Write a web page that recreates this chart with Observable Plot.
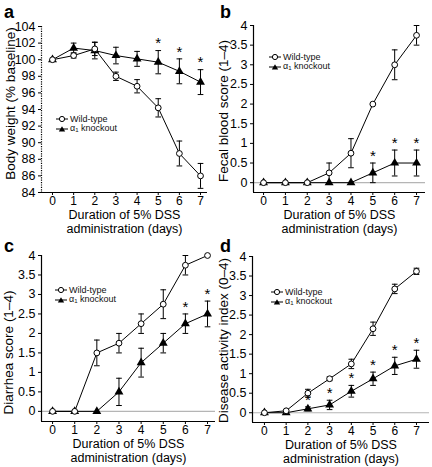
<!DOCTYPE html>
<html><head><meta charset="utf-8">
<script src="https://cdn.jsdelivr.net/npm/d3@7"></script>
<script src="https://cdn.jsdelivr.net/npm/@observablehq/plot@0.6"></script>
<style>
body{margin:0;background:#fff;font-family:"Liberation Sans",Arial,sans-serif;}
#wrap{position:relative;width:432px;height:467px;overflow:hidden;background:#fff;}
.panel{position:absolute;}
.plabel{position:absolute;font-weight:bold;font-size:18px;line-height:18px;color:#000;font-family:"Liberation Sans",Arial,sans-serif;}
.legend{position:absolute;font-size:9px;line-height:10px;color:#111;white-space:nowrap;}
.legend div{height:10px;display:flex;align-items:center;}
.legend svg{margin-right:2px;}
</style></head><body><div id="wrap"></div>
<script>
const days = [0, 1, 2, 3, 4, 5, 6, 7];
const seriesNames = ["Wild-type", "α₁ knockout"];

// a: body weight
const weightWT = [100, 100.5, 101.3, 98.0, 96.8, 94.2, 88.7, 86.0];
const weightWTErr = [0, 0.3, 0.8, 0.5, 0.8, 1.1, 1.5, 1.5];
const weightKO = [100, 101.4, 101.1, 100.5, 100.1, 99.7, 98.6, 97.3];
const weightKOErr = [0, 0.6, 1.0, 1.0, 0.9, 1.4, 1.5, 1.5];
const weightStars = [5, 6, 7];
const weightTicks = [84, 86, 88, 90, 92, 94, 96, 98, 100, 102, 104];

// b: fecal blood score
const bloodWT = [0, 0, 0, 0.25, 0.75, 2.0, 3.0, 3.75];
const bloodWTErr = [0, 0, 0, 0.25, 0.37, 0, 0.38, 0.25];
const bloodKO = [0, 0, 0, 0, 0, 0.25, 0.5, 0.5];
const bloodKOErr = [0, 0, 0, 0, 0, 0.25, 0.33, 0.33];
const bloodStars = [5, 6, 7];

// c: diarrhea score
const diarrheaWT = [0, 0, 1.5, 1.75, 2.25, 2.75, 3.75, 4.0];
const diarrheaWTErr = [0, 0, 0.33, 0.25, 0.25, 0.37, 0.25, 0];
const diarrheaKO = [0, 0, 0, 0.5, 1.25, 1.75, 2.25, 2.5];
const diarrheaKOErr = [0, 0, 0, 0.35, 0.37, 0.25, 0.25, 0.33];
const diarrheaStars = [6, 7];

// d: disease activity index
const daiWT = [0, 0.05, 0.5, 0.87, 1.25, 2.15, 3.17, 3.62];
const daiWTErr = [0, 0.03, 0.1, 0.05, 0.12, 0.17, 0.12, 0.08];
const daiKO = [0, 0, 0.1, 0.2, 0.55, 0.87, 1.2, 1.37];
const daiKOErr = [0, 0, 0.05, 0.12, 0.15, 0.17, 0.22, 0.23];
const daiStars = [2, 3, 4, 5, 6, 7];

const scoreTicks = [0, 0.5, 1, 1.5, 2, 2.5, 3, 3.5, 4];
const xTitle = "Duration of 5% DSS\nadministration (days)";

const capSymbol = {draw(ctx, size) { const w = Math.sqrt(size); ctx.moveTo(-w, 0); ctx.lineTo(w, 0); }};

function rows(vals, errs, group) {
  return days.map((d, i) => ({day: d, v: vals[i], e: errs[i], group}));
}

const panels = [
  {id: "a", left: 0, top: 0, w: 216, h: 234, ml: 41, mr: 9, mt: 26, mb: 42,
   xd: [-0.52, 7.33], yd: [84, 104], ticks: weightTicks, zero: false, dash: "1.2,1.2",
   title: "Body weight (% baseline)", tdx: -31, tdy: -6, xdy: 16,
   wt: [weightWT, weightWTErr], ko: [weightKO, weightKOErr], stars: weightStars,
   legend: [56, 114]},
  {id: "b", left: 216, top: 0, w: 216, h: 234, ml: 37, mr: 7, mt: 25, mb: 42,
   xd: [-0.46, 7.41], yd: [-0.25, 4], ticks: scoreTicks, zero: true, dash: null,
   title: "Fecal blood score (1–4)", tdx: -30, tdy: 2, xdy: 16,
   wt: [bloodWT, bloodWTErr], ko: [bloodKO, bloodKOErr], stars: bloodStars,
   legend: [53, 52]},
  {id: "c", left: 0, top: 234, w: 216, h: 233, ml: 41, mr: 1, mt: 21, mb: 46,
   xd: [-0.5, 7.36], yd: [-0.26, 4], ticks: scoreTicks, zero: true, dash: null,
   title: "Diarrhea score (1–4)", tdx: -33, tdy: 14, xdy: 16,
   wt: [diarrheaWT, diarrheaWTErr], ko: [diarrheaKO, diarrheaKOErr], stars: diarrheaStars,
   legend: [55, 51]},
  {id: "d", left: 216, top: 234, w: 216, h: 233, ml: 36, mr: 3, mt: 22, mb: 45,
   xd: [-0.55, 7.6], yd: [-0.25, 4], ticks: scoreTicks, zero: true, dash: null,
   title: "Disease activity index (0–4)", tdx: -29, tdy: 1, xdy: 16,
   wt: [daiWT, daiWTErr], ko: [daiKO, daiKOErr], stars: daiStars,
   legend: [55, 53]}
];

const wrap = document.getElementById("wrap");

function legendSymbol(kind) {
  const marker = kind === "wt"
    ? '<circle cx="6" cy="4" r="2.6" fill="#fff" stroke="#000" stroke-width="1"/>'
    : '<path d="M6,1.2 L9.2,6.6 L2.8,6.6 Z" fill="#000"/>';
  return `<svg width="12" height="8" viewBox="0 0 12 8"><line x1="0" y1="4" x2="12" y2="4" stroke="#000" stroke-width="1"/>${marker}</svg>`;
}

for (const p of panels) {
  const wt = rows(p.wt[0], p.wt[1], seriesNames[0]);
  const ko = rows(p.ko[0], p.ko[1], seriesNames[1]);
  const all = ko.concat(wt);
  const errs = all.filter(d => d.e > 0);
  const stars = ko.filter(d => p.stars.includes(d.day));
  const fmt = v => String(v);

  const chart = Plot.plot({
    width: p.w, height: p.h,
    marginLeft: p.ml, marginRight: p.mr, marginTop: p.mt, marginBottom: p.mb,
    style: {fontFamily: "'Liberation Sans', Arial, sans-serif", fontSize: "12px", color: "#000", background: "transparent", overflow: "visible"},
    x: {domain: p.xd},
    y: {domain: p.yd},
    marks: [
      p.zero ? Plot.ruleY([0], {stroke: "#b5b5b5", strokeWidth: 1.2}) : null,
      Plot.ruleX([p.xd[0]], {stroke: "#000", strokeWidth: 1.2, strokeDasharray: p.dash}),
      Plot.ruleY([p.yd[0]], {stroke: "#000", strokeWidth: 1.2}),
      Plot.axisY({ticks: p.ticks, tickSize: 3, tickPadding: 3, tickFormat: fmt, label: null, fontSize: 12.5}),
      Plot.axisX({ticks: days, tickSize: 3, tickPadding: 1, tickFormat: fmt, label: null, fontSize: 12}),
      Plot.ruleX(errs, {x: "day", y1: d => d.v - d.e, y2: d => d.v + d.e, stroke: "#000", strokeWidth: 1}),
      Plot.dot(errs, {x: "day", y: d => d.v + d.e, symbol: capSymbol, r: 1.6, stroke: "#000", strokeWidth: 1}),
      Plot.dot(errs, {x: "day", y: d => d.v - d.e, symbol: capSymbol, r: 1.6, stroke: "#000", strokeWidth: 1}),
      Plot.line(all, {x: "day", y: "v", z: "group", stroke: "#000", strokeWidth: 1}),
      Plot.dot(ko, {x: "day", y: "v", symbol: "triangle", r: 3.3, fill: "#000", stroke: null}),
      Plot.dot(wt, {x: "day", y: "v", r: 2.9, fill: "#fff", stroke: "#000", strokeWidth: 1}),
      Plot.text(stars, {x: "day", y: d => d.v + d.e, text: () => "*", dy: -7, fontSize: 15, fill: "#000"}),
      Plot.text([p.title], {frameAnchor: "left", textAnchor: "middle", lineAnchor: "middle", rotate: -90, dx: p.tdx, dy: p.tdy, fontSize: 13.5, fill: "#000"}),
      Plot.text([xTitle], {frameAnchor: "bottom", textAnchor: "middle", dy: p.xdy, lineAnchor: "top", lineHeight: 1.16, fontSize: 12.5, fill: "#000"})
    ].filter(Boolean)
  });

  const div = document.createElement("div");
  div.className = "panel";
  div.style.left = p.left + "px";
  div.style.top = p.top + "px";
  div.appendChild(chart);
  wrap.appendChild(div);

  const lab = document.createElement("div");
  lab.className = "plabel";
  lab.textContent = p.id;
  lab.style.left = (p.left + 4) + "px";
  lab.style.top = (p.top + 3) + "px";
  wrap.appendChild(lab);

  const leg = document.createElement("div");
  leg.className = "legend";
  leg.style.left = (p.left + p.legend[0]) + "px";
  leg.style.top = (p.top + p.legend[1]) + "px";
  leg.innerHTML = `<div>${legendSymbol("wt")}<span>Wild-type</span></div><div>${legendSymbol("ko")}<span>α<sub style="font-size:6px;vertical-align:-1px">1</sub> knockout</span></div>`;
  wrap.appendChild(leg);
}
</script></body></html>
